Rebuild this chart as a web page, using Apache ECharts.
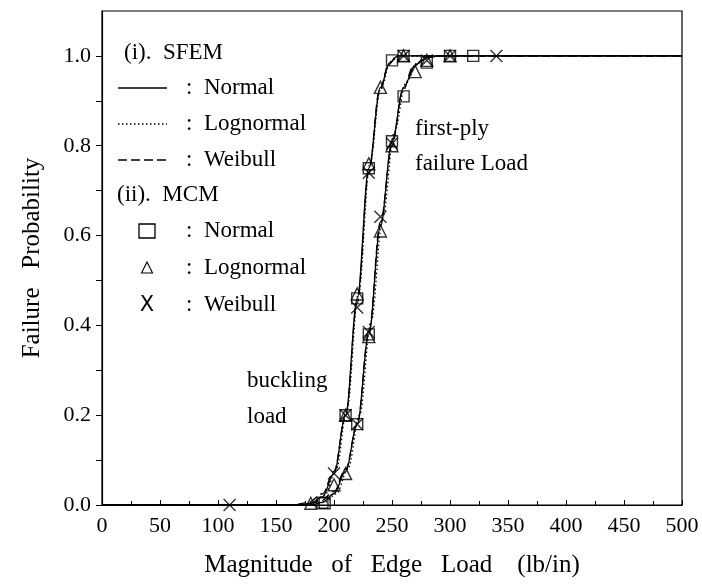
<!DOCTYPE html>
<html><head><meta charset="utf-8">
<script src="https://cdn.jsdelivr.net/npm/echarts@6/dist/echarts.min.js"></script>
<style>html,body{margin:0;padding:0;background:#fff}#c{width:702px;height:586px}</style>
</head><body><div id="c"></div>
<script>
// Tick values / labels
const xTicks = [0,50,100,150,200,250,300,350,400,450,500];
const yTickValues = [0,0.1,0.2,0.3,0.4,0.5,0.6,0.7,0.8,0.9,1.0];
const yLabelValues = [0,0.2,0.4,0.6,0.8,1.0];

// SFEM curves [load, probability] - buckling load
const sfemBucklingNormal    = [[0,0],[170,0],[180,0.004],[190,0.018],[200,0.07],[210,0.2],[220,0.46],[230,0.75],[240,0.93],[248,0.985],[255,1.0],[500,1.0]];
const sfemBucklingLognormal = [[0,0],[172,0],[182,0.005],[192,0.022],[202,0.08],[211,0.21],[221,0.47],[231,0.76],[240,0.925],[249,0.988],[256,1.0],[500,1.0]];
const sfemBucklingWeibull   = [[0,0],[165,0],[178,0.006],[190,0.025],[200,0.075],[210,0.2],[220,0.45],[230,0.74],[239,0.92],[247,0.98],[254,1.0],[500,1.0]];
// SFEM curves - first-ply failure load
const sfemFirstPlyNormal    = [[0,0],[180,0],[190,0.006],[200,0.025],[210,0.075],[220,0.18],[230,0.38],[240,0.62],[250,0.81],[260,0.93],[270,0.98],[280,0.996],[290,1.0],[500,1.0]];
const sfemFirstPlyLognormal = [[0,0],[182,0],[192,0.006],[202,0.025],[212,0.08],[222,0.2],[232,0.41],[242,0.64],[252,0.83],[262,0.94],[272,0.985],[282,0.997],[292,1.0],[500,1.0]];
const sfemFirstPlyWeibull   = [[0,0],[175,0],[188,0.008],[200,0.03],[210,0.08],[220,0.18],[230,0.385],[240,0.63],[250,0.8],[259,0.92],[268,0.975],[278,0.995],[288,1.0],[500,1.0]];

// MCM results
const mcmNormal    = [[190,0.005],[210,0.2],[220,0.46],[230,0.75],[250,0.99],[260,1.0],
                      [192,0.004],[220,0.18],[230,0.38],[250,0.81],[260,0.91],[280,0.985],[300,1.0],[320,1.0]];
const mcmLognormal = [[180,0.004],[200,0.045],[210,0.2],[220,0.47],[230,0.76],[240,0.93],[260,1.0],
                      [210,0.07],[230,0.375],[240,0.61],[250,0.8],[270,0.965],[280,0.99],[300,1.0]];
const mcmWeibull   = [[110,0.0],[200,0.07],[210,0.2],[220,0.44],[230,0.74],[260,1.0],
                      [220,0.18],[230,0.385],[240,0.642],[250,0.805],[280,0.99],[300,1.0],[340,1.0]];

// Legend texts
const sfemTitle = '(i).  SFEM';
const mcmTitle = '(ii).  MCM';
const distNames = ['Normal', 'Lognormal', 'Weibull'];

const serif = 'Liberation Serif';
const F = '23px "Liberation Serif"';
const chart = echarts.init(document.getElementById('c'));
const DASH = [9, 4], DOT = [1.5, 2.5];
const lineSeries = (name, data, type) => ({
  name, type: 'line', data, symbol: 'none', smooth: 0.35, smoothMonotone: 'x',
  lineStyle: {color: '#000', width: 1.3, type}, itemStyle: {color: '#000'}, z: 3
});
const crossPath = 'path://M0,0L10,10M10,0L0,10';
const scatterSeries = (name, data, symbol, size) => ({
  name, type: 'scatter', data, symbol, symbolSize: size,
  itemStyle: {color: 'rgba(255,255,255,0)', borderColor: '#000', borderWidth: 1.4}, z: 4
});

const rowY = [88, 124, 160];      // SFEM legend rows
const mRowY = [231, 268, 305];    // MCM legend rows
const lineDashes = [null, DOT, DASH];
const graphic = [
  {type: 'text', x: 124, y: 53, style: {text: sfemTitle, font: F, fill: '#000', verticalAlign: 'middle'}},
  {type: 'text', x: 117, y: 195, style: {text: mcmTitle, font: F, fill: '#000', verticalAlign: 'middle'}},
  {type: 'text', x: 247, y: 381, style: {text: 'buckling', font: F, fill: '#000', verticalAlign: 'middle'}},
  {type: 'text', x: 247, y: 417, style: {text: 'load', font: F, fill: '#000', verticalAlign: 'middle'}},
  {type: 'text', x: 415, y: 129, style: {text: 'first-ply', font: F, fill: '#000', verticalAlign: 'middle'}},
  {type: 'text', x: 415, y: 164, style: {text: 'failure Load', font: F, fill: '#000', verticalAlign: 'middle'}}
];
distNames.forEach((n, i) => {
  graphic.push({type: 'line', shape: {x1: 118, y1: rowY[i], x2: 167, y2: rowY[i]},
    style: {stroke: '#000', lineWidth: 1.3, lineDash: lineDashes[i]}});
  graphic.push({type: 'text', x: 186, y: rowY[i], style: {text: ':  ' + n, font: F, fill: '#000', verticalAlign: 'middle'}});
  graphic.push({type: 'text', x: 186, y: mRowY[i], style: {text: ':  ' + n, font: F, fill: '#000', verticalAlign: 'middle'}});
});
graphic.push({type: 'rect', shape: {x: 139, y: mRowY[0] - 7, width: 16, height: 14}, style: {fill: 'none', stroke: '#000', lineWidth: 1.3}});
graphic.push({type: 'polygon', shape: {points: [[147, mRowY[1] - 6], [152.5, mRowY[1] + 5], [141.5, mRowY[1] + 5]]}, style: {fill: 'none', stroke: '#000', lineWidth: 1.1}});
graphic.push({type: 'text', x: 147, y: mRowY[2] + 1, style: {text: 'X', font: '21px "DejaVu Sans"', fill: '#000', align: 'center', verticalAlign: 'middle'}});

chart.setOption({
  animation: false,
  backgroundColor: '#fff',
  textStyle: {fontFamily: serif, color: '#000'},
  grid: {left: 102, right: 20, top: 11, bottom: 81, show: true, borderColor: '#000', borderWidth: 1.2, containLabel: false},
  xAxis: {
    type: 'value', min: 0, max: 500, interval: 50,
    name: 'Magnitude   of   Edge   Load    (lb/in)', nameLocation: 'middle', nameGap: 48,
    nameTextStyle: {fontFamily: serif, fontSize: 25, color: '#000'},
    axisLine: {lineStyle: {color: '#000', width: 1.2}},
    axisTick: {inside: true, length: 5, lineStyle: {color: '#000'}},
    minorTick: {show: true, splitNumber: 2, length: 4, lineStyle: {color: '#000'}},
    axisLabel: {fontFamily: serif, fontSize: 22, color: '#000', margin: 10,
      formatter: v => xTicks.includes(v) ? String(v) : ''},
    splitLine: {show: false}
  },
  yAxis: {
    type: 'value', min: 0, max: 1.1, interval: 0.1,
    name: 'Failure   Probability', nameLocation: 'middle', nameGap: 57,
    nameTextStyle: {fontFamily: serif, fontSize: 25, color: '#000'},
    axisLine: {lineStyle: {color: '#000', width: 1.2}},
    axisTick: {inside: false, length: 6, lineStyle: {color: '#000'}, customValues: yTickValues},
    axisLabel: {fontFamily: serif, fontSize: 22, color: '#000', margin: 11,
      customValues: yLabelValues, formatter: v => v.toFixed(1)},
    splitLine: {show: false}
  },
  graphic,
  series: [
    lineSeries('SFEM Normal', sfemBucklingNormal, 'solid'),
    lineSeries('SFEM Lognormal', sfemBucklingLognormal, DOT),
    lineSeries('SFEM Weibull', sfemBucklingWeibull, DASH),
    lineSeries('SFEM Normal', sfemFirstPlyNormal, 'solid'),
    lineSeries('SFEM Lognormal', sfemFirstPlyLognormal, DOT),
    lineSeries('SFEM Weibull', sfemFirstPlyWeibull, DASH),
    scatterSeries('MCM Normal', mcmNormal, 'rect', 11),
    scatterSeries('MCM Lognormal', mcmLognormal, 'triangle', 12),
    scatterSeries('MCM Weibull', mcmWeibull, crossPath, 12)
  ]
});
</script></body></html>
